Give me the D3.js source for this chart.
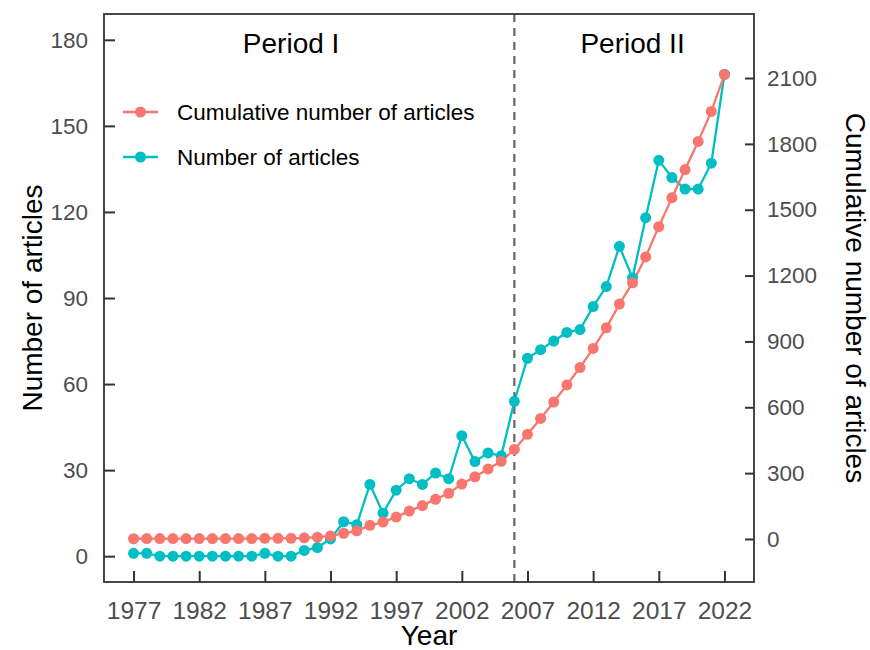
<!DOCTYPE html>
<html>
<head>
<meta charset="utf-8">
<script src="https://cdn.jsdelivr.net/npm/d3@7"></script>
<style>
	body{margin:0;background:#fff;}
	text{font-family:"Liberation Sans",Arial,sans-serif;}
</style>
</head>
<body>
<div id="chart"></div>
<script>
// data
var years = [1977,1978,1979,1980,1981,1982,1983,1984,1985,1986,
	1987,1988,1989,1990,1991,1992,1993,1994,1995,1996,
	1997,1998,1999,2000,2001,2002,2003,2004,2005,2006,
	2007,2008,2009,2010,2011,2012,2013,2014,2015,2016,
	2017,2018,2019,2020,2021,2022];
var articles = [1,1,0,0,0,0,0,0,0,0,
	1,0,0,2,3,6,12,11,25,15,
	23,27,25,29,27,42,33,36,35,54,
	69,72,75,78,79,87,94,108,97,118,
	138,132,128,128,137,168];
var cumulative = [1,2,2,2,2,2,2,2,2,2,
	3,3,3,5,8,14,26,37,62,77,
	100,127,152,181,208,250,283,319,354,408,
	477,549,624,702,781,868,962,1070,1167,1285,
	1423,1555,1683,1811,1948,2116];
var xTicks = [1977,1982,1987,1992,1997,2002,2007,2012,2017,2022];
var leftTicks = [0,30,60,90,120,150,180];
var rightTicks = [0,300,600,900,1200,1500,1800,2100];
var seriesNames = ["Cumulative number of articles","Number of articles"];
var periods = [{label:"Period I",x:1989},{label:"Period II",x:2015}];
var splitYear = 2006;

var RED = "#F8766D", TEAL = "#00BFC4";
var W = 870, H = 650;
var L = 104, R = 754, T = 14, B = 582;

// secondary axis: cumulative = (n - 6) * 13.07
var offset = 6, coef = 13.07;

var svg = d3.select("#chart").append("svg").attr("width",W).attr("height",H);

var x = d3.scaleLinear().domain([1974.75, 2024.25]).range([L, R]);
var y = d3.scaleLinear().domain([-9, 189]).range([B, T]);
var y2 = d3.scaleLinear().domain([(-9-offset)*coef, (189-offset)*coef]).range([B, T]);

var teal = years.map(function(d,i){ return {x:d, y:articles[i]}; });
var red = years.map(function(d,i){ return {x:d, y:cumulative[i]}; });

// dashed split line
svg.append("line")
	.attr("x1",x(splitYear)).attr("x2",x(splitYear))
	.attr("y1",T).attr("y2",B)
	.attr("stroke","#666").attr("stroke-width",2.2)
	.attr("stroke-dasharray","8,6");

// lines first, then points (red on top)
var line1 = d3.line().x(function(d){return x(d.x);}).y(function(d){return y(d.y);});
var line2 = d3.line().x(function(d){return x(d.x);}).y(function(d){return y2(d.y);});

svg.append("path").datum(teal).attr("d",line1)
	.attr("fill","none").attr("stroke",TEAL).attr("stroke-width",2.3);
svg.append("path").datum(red).attr("d",line2)
	.attr("fill","none").attr("stroke",RED).attr("stroke-width",2.3);

svg.append("g").selectAll("circle").data(teal).enter().append("circle")
	.attr("cx",function(d){return x(d.x);})
	.attr("cy",function(d){return y(d.y);})
	.attr("r",5.5).attr("fill",TEAL);
svg.append("g").selectAll("circle").data(red).enter().append("circle")
	.attr("cx",function(d){return x(d.x);})
	.attr("cy",function(d){return y2(d.y);})
	.attr("r",5.5).attr("fill",RED);

// axes, ticks pointing into the panel
var gx = svg.append("g").attr("transform","translate(0,"+B+")")
	.call(d3.axisBottom(x).tickValues(xTicks).tickFormat(d3.format("d")).tickSize(-11).tickPadding(20));
var gl = svg.append("g").attr("transform","translate("+L+",0)")
	.call(d3.axisLeft(y).tickValues(leftTicks).tickFormat(d3.format("d")).tickSize(-11).tickPadding(16));
var gr = svg.append("g").attr("transform","translate("+R+",0)")
	.call(d3.axisRight(y2).tickValues(rightTicks).tickFormat(d3.format("d")).tickSize(-9).tickPadding(13));

[gx,gl,gr].forEach(function(g){
	g.select(".domain").remove();
	g.selectAll(".tick line").attr("stroke","#333").attr("stroke-width",2);
	g.selectAll(".tick text").attr("fill","#4d4d4d").style("font-size","22.5px")
		.style("font-family","'Liberation Sans',Arial,sans-serif");
});
gx.selectAll(".tick text").style("font-size","24.5px");

// panel border
svg.append("rect").attr("x",L).attr("y",T).attr("width",R-L).attr("height",B-T)
	.attr("fill","none").attr("stroke","#333").attr("stroke-width",1.8);

// period labels
svg.selectAll(".period").data(periods).enter().append("text")
	.attr("class","period")
	.attr("x",function(d){return x(d.x);})
	.attr("y",53)
	.attr("text-anchor","middle")
	.style("font-size","28px").attr("fill","#000")
	.text(function(d){return d.label;});

// legend
var legend = svg.append("g");
var colors = [RED, TEAL];
seriesNames.forEach(function(name,i){
	var ly = 112 + i*45;
	legend.append("line").attr("x1",123).attr("x2",158).attr("y1",ly).attr("y2",ly)
		.attr("stroke",colors[i]).attr("stroke-width",2.3);
	legend.append("circle").attr("cx",140.5).attr("cy",ly).attr("r",5.5).attr("fill",colors[i]);
	legend.append("text").attr("x",177).attr("y",ly+8)
		.style("font-size","22.5px").attr("fill","#000").text(name);
});

// axis titles
svg.append("text").attr("x",(L+R)/2).attr("y",645).attr("text-anchor","middle")
	.style("font-size","28px").text("Year");
svg.append("text").attr("transform","translate(42,298) rotate(-90)")
	.attr("text-anchor","middle").style("font-size","28px").text("Number of articles");
svg.append("text").attr("transform","translate(846,298) rotate(90)")
	.attr("text-anchor","middle").style("font-size","28px").text("Cumulative number of articles");
</script>
</body>
</html>
